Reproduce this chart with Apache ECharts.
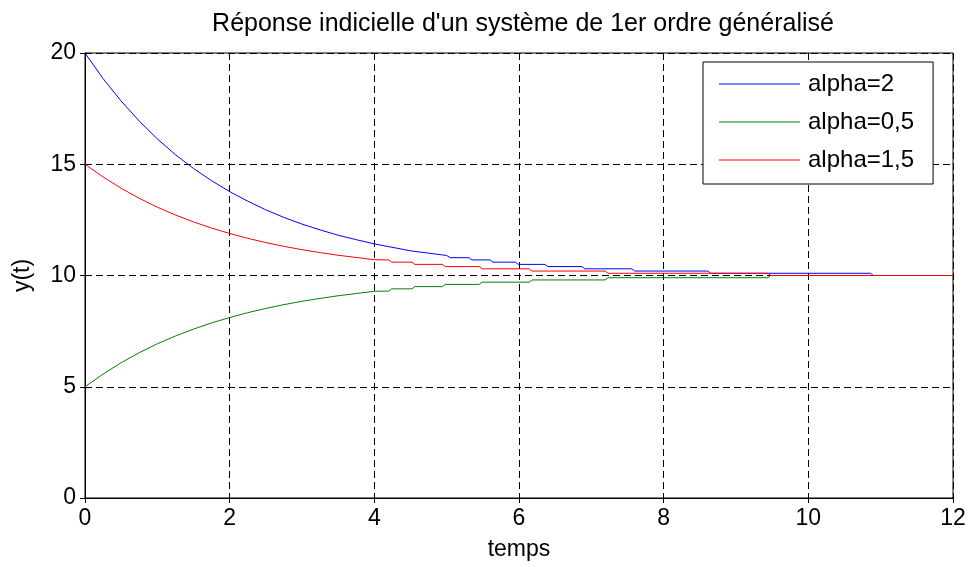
<!DOCTYPE html>
<html>
<head>
<meta charset="utf-8">
<script src="https://cdn.jsdelivr.net/npm/echarts@6/dist/echarts.min.js"></script>
<style>
html, body { margin: 0; padding: 0; background: #fff; }
#chart { width: 971px; height: 567px; }
</style>
</head>
<body>
<div id="chart"></div>
<script>
// values: [t, y(t)]
var seriesNames = ['alpha=2', 'alpha=0,5', 'alpha=1,5'];
var alpha2 = [
  [0, 20], [0.25, 18.85], [0.5, 17.84], [0.75, 16.94], [1, 16.14], [1.25, 15.43],
  [1.5, 14.81], [1.75, 14.26], [2, 13.77], [2.25, 13.34], [2.5, 12.95], [2.75, 12.61],
  [3, 12.31], [3.25, 12.05], [3.5, 11.81], [3.75, 11.61], [4, 11.42], [4.5, 11.11],
  [5, 10.9], [5.05, 10.8], [5.31, 10.8], [5.35, 10.7], [5.6, 10.7], [5.64, 10.6],
  [5.95, 10.6], [5.99, 10.5], [6.36, 10.5], [6.4, 10.4], [6.87, 10.4], [6.91, 10.3],
  [7.56, 10.3], [7.6, 10.2], [8.61, 10.2], [8.65, 10.1], [10.86, 10.1], [10.9, 10.0], [12, 10.0]
];
var alpha05 = [
  [0, 5], [0.25, 5.57], [0.5, 6.08], [0.75, 6.53], [1, 6.93], [1.25, 7.28],
  [1.5, 7.59], [1.75, 7.87], [2, 8.11], [2.25, 8.33], [2.5, 8.52], [2.75, 8.69],
  [3, 8.84], [3.25, 8.97], [3.5, 9.09], [3.75, 9.19], [4, 9.29], [4.2, 9.3],
  [4.24, 9.4], [4.52, 9.4], [4.56, 9.5], [4.94, 9.5], [4.98, 9.6], [5.45, 9.6],
  [5.49, 9.7], [6.14, 9.7], [6.18, 9.8], [7.19, 9.8], [7.23, 9.9], [9.44, 9.9],
  [9.48, 10], [12, 10]
];
var alpha15 = [
  [0, 15], [0.25, 14.43], [0.5, 13.92], [0.75, 13.47], [1, 13.07], [1.25, 12.72],
  [1.5, 12.41], [1.75, 12.13], [2, 11.89], [2.25, 11.67], [2.5, 11.48], [2.75, 11.31],
  [3, 11.16], [3.25, 11.03], [3.5, 10.91], [3.75, 10.81], [4, 10.71], [4.2, 10.7],
  [4.24, 10.6], [4.52, 10.6], [4.56, 10.5], [4.94, 10.5], [4.98, 10.4], [5.45, 10.4],
  [5.49, 10.3], [6.14, 10.3], [6.18, 10.2], [7.19, 10.2], [7.23, 10.1], [9.44, 10.1],
  [9.48, 10], [12, 10]
];
var colors = ['#0000ff', '#008000', '#ff0000'];

var font = 'Liberation Sans';
var dash = { show: true, lineStyle: { color: '#000', width: 1, type: [7, 4] } };
var tick = { show: true, inside: true, length: 5, lineStyle: { color: '#000' } };

var chart = echarts.init(document.getElementById('chart'));
chart.setOption({
  animation: false,
  title: {
    text: "Réponse indicielle d'un système de 1er ordre généralisé",
    left: 518, top: 7, textAlign: 'center',
    textStyle: { fontFamily: font, fontSize: 25, fontWeight: 'normal', color: '#000' }
  },
  grid: { left: 85, right: 18, top: 53, bottom: 69, show: true, borderColor: '#000', borderWidth: 1 },
  legend: {
    orient: 'vertical', left: 703, top: 62,
    padding: [9, 19, 11, 16],
    backgroundColor: '#fff', borderColor: '#000', borderWidth: 1,
    itemWidth: 81, itemHeight: 1, itemGap: 12, icon: 'rect',
    textStyle: { fontFamily: font, fontSize: 24, color: '#000', lineHeight: 26, padding: [0, 0, 0, 3] },
    data: seriesNames
  },
  xAxis: [{
    type: 'value', min: 0, max: 12, interval: 2,
    name: 'temps', nameLocation: 'middle', nameGap: 40,
    nameTextStyle: { fontFamily: font, fontSize: 23, color: '#000' },
    axisLine: { show: true, lineStyle: { color: '#000' } },
    axisTick: tick, splitLine: dash,
    axisLabel: { fontFamily: font, fontSize: 23, color: '#000', margin: 9 }
  }, {
    type: 'value', min: 0, max: 12, interval: 2, position: 'top',
    axisLine: { show: true, lineStyle: { color: '#000' } },
    axisTick: tick, splitLine: { show: false }, axisLabel: { show: false }
  }],
  yAxis: [{
    type: 'value', min: 0, max: 20, interval: 5,
    name: 'y(t)', nameLocation: 'middle', nameGap: 51,
    nameTextStyle: { fontFamily: font, fontSize: 23, color: '#000' },
    axisLine: { show: true, lineStyle: { color: '#000' } },
    axisTick: tick, splitLine: dash,
    axisLabel: { fontFamily: font, fontSize: 23, color: '#000', margin: 9 }
  }, {
    type: 'value', min: 0, max: 20, interval: 5, position: 'right',
    axisLine: { show: true, lineStyle: { color: '#000' } },
    axisTick: tick, splitLine: { show: false }, axisLabel: { show: false }
  }],
  series: [
    { name: seriesNames[0], type: 'line', data: alpha2, showSymbol: false, color: colors[0], lineStyle: { width: 1 } },
    { name: seriesNames[1], type: 'line', data: alpha05, showSymbol: false, color: colors[1], lineStyle: { width: 1 } },
    { name: seriesNames[2], type: 'line', data: alpha15, showSymbol: false, color: colors[2], lineStyle: { width: 1 } }
  ]
});
</script>
</body>
</html>
